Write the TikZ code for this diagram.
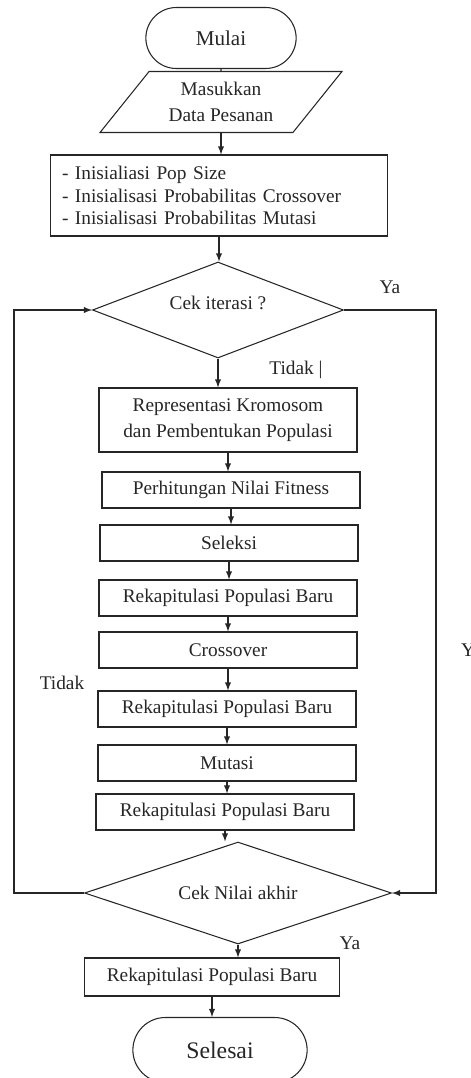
\documentclass[tikz,border=0pt]{standalone}
\usepackage{fontspec}
\setmainfont{Liberation Serif}
\usetikzlibrary{arrows,shapes}
\tikzstyle{terminal}=[rounded rectangle,draw,line width=0.6pt,minimum width=3.24cm,minimum height=1.22cm,font=\fontsize{12}{14}\selectfont]
\tikzstyle{io}=[trapezium,trapezium left angle=46,trapezium right angle=134,trapezium stretches body,draw,line width=0.6pt,minimum width=4.84cm,minimum height=1.22cm,align=center,font=\fontsize{11}{14.5}\selectfont]
\tikzstyle{process}=[rectangle,draw,line width=0.6pt,minimum width=5.16cm,minimum height=0.72cm,align=center,font=\fontsize{11}{15}\selectfont]
\tikzstyle{decision}=[diamond,draw,line width=0.6pt,inner sep=0pt,font=\fontsize{11}{13}\selectfont]
\tikzstyle{edge} = [draw,line width=0.6pt,-latex]
\tikzstyle{answer} = [font=\fontsize{11}{13}\selectfont]

\begin{document}
\begin{tikzpicture}[x=0.02cm,y=-0.02cm,color=black!85]
    \useasboundingbox (0,0) rectangle (470,1078);
    % Start, input and initialisation
    \node[terminal] (mulai) at (221,38) {Mulai};
    \node[io] (masuk) at (221,102) {Masukkan\\Data Pesanan};
    \node[process,minimum width=6.76cm,minimum height=1.62cm,text width=6.28cm,inner xsep=0.24cm,align=left,font=\fontsize{11}{13}\selectfont] (init) at (219,195.5)
        {- Inisialiasi Pop Size\\- Inisialisasi Probabilitas Crossover\\- Inisialisasi Probabilitas Mutasi};

    % The two checks
    \node[decision,aspect=3,minimum width=5.02cm,minimum height=1.92cm] (cek1) at (218,310) {\raisebox{0.3cm}{Cek iterasi ?}};
    \node[decision,aspect=3.4,minimum width=6.14cm,minimum height=2.04cm] (cek2) at (238,893) {Cek Nilai akhir};

    % Then the steps of one iteration
    \node[process,minimum height=1.28cm] (rep) at (228,420) {Representasi Kromosom\\dan Pembentukan Populasi};
    \foreach \pos/\name/\txt in {{(231,490)/fit/Perhitungan Nilai Fitness}, {(229,543)/sel/Seleksi},
        {(228,598)/rek1/Rekapitulasi Populasi Baru}, {(228,650)/cross/Crossover},
        {(227,709)/rek2/Rekapitulasi Populasi Baru}, {(227,763)/mut/Mutasi},
        {(225,812)/rek3/Rekapitulasi Populasi Baru}}
        \node[process] (\name) at \pos {\txt};

    % End
    \node[process,minimum width=5.1cm,minimum height=0.76cm] (rek4) at (212,977) {Rekapitulasi Populasi Baru};
    \node[terminal,minimum width=3.72cm,minimum height=1.3cm,font=\fontsize{13.5}{16}\selectfont] (selesai) at (220,1050) {Selesai};

    % Connect the steps
    \draw[line width=0.6pt] (mulai) -- (masuk);
    \foreach \source/ \dest in {masuk/init, init/cek1, cek1/rep, rep/fit, fit/sel, sel/rek1, rek1/cross,
        cross/rek2, rek2/mut, mut/rek3, rek3/cek2, cek2/rek4, rek4/selesai}
        \path[edge] (\source.south) -- (\source.south |- \dest.north);

    % Loops round the iteration
    \coordinate (lx) at (14,600);
    \coordinate (rx) at (436,600);
    \path[edge] (cek2.west) -| (lx) |- (cek1.west);
    \path[edge] (cek1.east) -| (rx) |- (cek2.east);

    \node[answer] (ya1) at (390,287) {Ya};
    \node[answer] (tidak1) at (296,370) {Tidak |};
    \node[answer] (tidak2) at (62,683) {Tidak};
    \node[answer,anchor=west] (ya2) at (455,650) {Ya};
    \node[answer] (ya3) at (350,943) {Ya};
\end{tikzpicture}
\end{document}
